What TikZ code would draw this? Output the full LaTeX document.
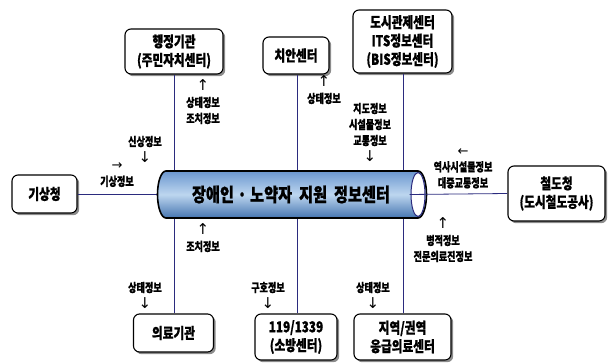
\documentclass[tikz,border=0pt]{standalone}
\usepackage{fontspec}
\setmainfont{Noto Sans CJK KR}[FakeStretch=0.8, BoldFeatures={FakeBold=0.8}]
\newfontfamily\lblfont{Noto Sans CJK KR}[FakeStretch=0.76, BoldFeatures={FakeBold=0.6}]
\newfontfamily\boxfont{Noto Sans CJK KR}[FakeStretch=0.78, BoldFeatures={FakeBold=0.8}]
\newfontfamily\arrfont{DejaVu Sans}
\newcommand{\ua}{{\arrfont\mdseries\fontsize{15}{16}\selectfont ↑}}
\newcommand{\da}{{\arrfont\mdseries\fontsize{15}{16}\selectfont ↓}}
\newcommand{\ra}{{\arrfont\mdseries\fontsize{13}{16}\selectfont →}}
\newcommand{\la}{{\arrfont\mdseries\fontsize{13}{16}\selectfont ←}}
\usetikzlibrary{shadows}
\definecolor{lnc}{HTML}{2B2B7E}
\definecolor{cyltop}{HTML}{6A96CF}
\definecolor{cylmid}{HTML}{BDD6EF}
\definecolor{cylbot}{HTML}{4574B0}
\tikzset{
  box/.style={draw=black, line width=1.1pt, rounded corners=6pt, fill=white, align=center,
    inner sep=0pt, font=\boxfont\fontsize{15}{18.5}\selectfont\bfseries,
    drop shadow={shadow xshift=2.2pt, shadow yshift=-2.2pt, fill=black!45, opacity=1}},
  lbl/.style={align=center, inner sep=0pt, font=\lblfont\fontsize{12}{16}\selectfont\bfseries},
  conn/.style={draw=lnc, line width=0.8pt}
}
\begin{document}
\begin{tikzpicture}[x=1pt,y=1pt]
\useasboundingbox (0,0) rectangle (610,-363);
% boxes
\node[box, minimum width=98pt, minimum height=45pt] (admin) at (174,-51.5) {행정기관\\(주민자치센터)};
\node[box, minimum width=66pt, minimum height=37pt] (police) at (296,-55.5) {치안센터};
\node[box, minimum width=99pt, minimum height=63pt] (traffic) at (402.5,-41.5) {도시관제센터\\ITS정보센터\\(BIS정보센터)};
\node[box, minimum width=65pt, minimum height=38pt] (weather) at (44.5,-194) {기상청};
\node[box, minimum width=97pt, minimum height=55pt] (rail) at (556.5,-193.5) {철도청\\(도시철도공사)};
\node[box, minimum width=80pt, minimum height=38pt] (medical) at (173.5,-333) {의료기관};
\node[box, minimum width=82pt, minimum height=46pt] (fire) at (296,-337) {119/1339\\(소방센터)};
\node[box, minimum width=97pt, minimum height=46pt] (emerg) at (402.5,-337) {지역/권역\\응급의료센터};
% hub placeholder
\node[minimum width=270pt, minimum height=47pt, inner sep=0pt] (hub) at (292,-194.5) {};
\coordinate (capL) at (409.5,-194.5);
% connectors
\draw[conn] (admin.south) -- (admin.south |- hub.north);
\draw[conn] ([xshift=1pt]police.south) -- ([xshift=1pt]police.south |- hub.north);
\draw[conn] ([xshift=0.5pt]traffic.south) -- ([xshift=0.5pt]traffic.south |- hub.north);
\draw[conn] ([xshift=0.5pt]medical.north) -- ([xshift=0.5pt]medical.north |- hub.south);
\draw[conn] ([xshift=1pt]fire.north) -- ([xshift=1pt]fire.north |- hub.south);
\draw[conn] ([xshift=0.5pt]emerg.north) -- ([xshift=0.5pt]emerg.north |- hub.south);
\draw[conn] (weather.east) -- (weather.east -| hub.west);
% cylinder
\path[top color=cyltop, bottom color=cylbot, middle color=cylmid]
  (418,-171) -- (166,-171) arc[start angle=90, end angle=270, x radius=8.5pt, y radius=23.5pt]
  -- (418,-218) arc[start angle=-90, end angle=90, x radius=8.5pt, y radius=23.5pt] -- cycle;
\draw[line width=1.6pt]
  (418,-171) -- (166,-171) arc[start angle=90, end angle=270, x radius=8.5pt, y radius=23.5pt]
  -- (418,-218) arc[start angle=-90, end angle=90, x radius=8.5pt, y radius=23.5pt] -- cycle;
\draw[fill=white, draw=lnc, line width=1pt] (418,-194.5) ellipse[x radius=7pt, y radius=22pt];
\draw[conn] (capL) -- (rail.west);
\node[font=\fontsize{19}{20}\selectfont\bfseries, inner sep=0pt] (title) at (291,-194.5) {장애인 · 노약자\ \ 지원\ \ 정보센터};
% labels
\node[lbl] (l1) at (203,-102) {\ua\\상태정보\\조치정보};
\node[lbl] (l2) at (145,-149) {신상정보\\\da};
\node[lbl] (l3) at (117,-175) {\ra\\기상정보};
\node[lbl] (l4) at (324,-90) {\ua\\상태정보};
\node[lbl] (l5) at (370,-132) {지도정보\\시설물정보\\교통정보\\\da};
\node[lbl] (l6) at (463,-168.5) {\la\\역사시설물정보\\대중교통정보};
\node[lbl] (l7) at (203,-238) {\ua\\조치정보};
\node[lbl] (l8) at (145,-295) {상태정보\\\da};
\node[lbl] (l9) at (268,-295) {구호정보\\\da};
\node[lbl] (l10) at (443,-240) {\ua\\병적정보\\전문의료진정보};
\node[lbl] (l11) at (373,-295) {상태정보\\\da};
\end{tikzpicture}
\end{document}
